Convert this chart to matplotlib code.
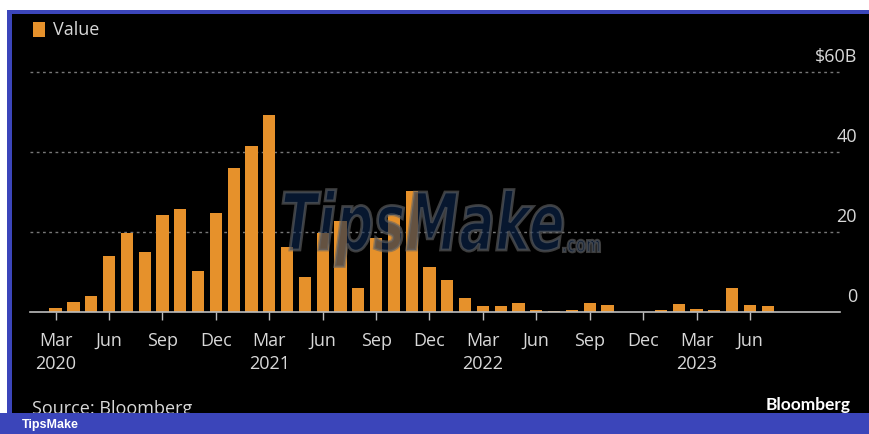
#!/usr/bin/env python3

import numpy as np
import pandas as pd
import matplotlib
matplotlib.use('Agg')
import matplotlib.pyplot as plt
from matplotlib.patches import Rectangle, PathPatch
from matplotlib.textpath import TextPath
from matplotlib.font_manager import FontProperties
from matplotlib.transforms import Affine2D

# monthly values, $B, Mar 2020 .. Jul 2023
months = pd.date_range('2020-03-01', periods=41, freq='MS')
values = [1.0, 2.4, 3.9, 13.9, 19.8, 15.0, 24.2, 25.8, 10.3, 24.8,
          36.0, 41.4, 49.2, 16.3, 8.7, 19.8, 22.8, 5.9, 18.6, 24.2, 30.2, 11.3,
          8.0, 3.4, 1.5, 1.5, 2.2, 0.6, 0.3, 0.6, 2.2, 1.7, 0.1, 0.1,
          0.4, 2.0, 0.8, 0.6, 5.9, 1.8, 1.6]
y_ticks = [0, 20, 40, 60]
y_labels = ['0', '20', '40', '$60B']

W, H = 869, 434
ORANGE = '#E6912B'
BLUE = '#3B45BA'
TXT = '#d8d8d8'
FONT = 'Open Sans'

plt.rcParams['font.family'] = [FONT, 'DejaVu Sans']

fig = plt.figure(figsize=(W / 100, H / 100), dpi=100)
fig.patch.set_facecolor('white')

def fx(x):
	return x / W

def fy(y):
	return 1 - y / H

# frame: black panel, blue borders (behind the axes)
fig.patches.append(Rectangle((fx(7), fy(413)), fx(W - 7), (413 - 10) / H,
	transform=fig.transFigure, facecolor=BLUE, edgecolor='none', zorder=-2))
fig.patches.append(Rectangle((fx(12), fy(413)), fx(W - 12), (413 - 14) / H,
	transform=fig.transFigure, facecolor='black', edgecolor='none', zorder=-1))

x = np.arange(len(values))

ax = fig.add_axes([fx(30), fy(312), fx(840 - 30), (312 - 64) / H])
ax.set_facecolor('none')
ax.bar(x, values, width=0.69, color=ORANGE, zorder=2)

ax.set_xlim(-1.44, 44.06)
ax.set_ylim(0, 62)

for s in ['top', 'right', 'left']:
	ax.spines[s].set_visible(False)
ax.spines['bottom'].set_color('#bdbdbd')
ax.spines['bottom'].set_linewidth(1.2)
ax.spines['bottom'].set_zorder(3)

for v, lab in zip(y_ticks, y_labels):
	if v > 0:
		ax.axhline(v, color='#777777', lw=1, ls=(0, (2, 2.5)), zorder=1)
	ax.annotate(lab, xy=(1.021, v), xycoords=('axes fraction', 'data'),
		xytext=(0, 7.5), textcoords='offset points', ha='right', va='baseline',
		color=TXT, fontsize=13, annotation_clip=False)
ax.set_yticks([])

tick_pos = x[::3]
tick_labels = []
for d in months[::3]:
	lab = d.strftime('%b')
	if d.month == 3:
		lab += '\n' + str(d.year)
	tick_labels.append(lab)
ax.set_xticks(tick_pos)
ax.set_xticklabels(tick_labels, color=TXT, fontsize=13, linespacing=1.32, va='top')
ax.tick_params(axis='x', length=6, width=1, color='#bdbdbd', pad=8.5)

# legend
fig.patches.append(Rectangle((fx(33), fy(37)), fx(12), 15 / H,
	transform=fig.transFigure, facecolor=ORANGE, edgecolor='none', zorder=2))
fig.text(fx(53), fy(30), 'Value', color=TXT, fontsize=13, va='center', ha='left')

# footer
fig.text(fx(32), fy(414), 'Source: Bloomberg', color=TXT, fontsize=13,
	va='baseline', ha='left', zorder=1)
fig.text(fx(851), fy(410), 'Bloomberg', color='white', fontsize=12.5,
	fontweight='bold', family=['Lato', 'DejaVu Sans'], va='baseline', ha='right', zorder=2)
fig.patches.append(Rectangle((0, 0), 1, (H - 413) / H,
	transform=fig.transFigure, facecolor=BLUE, edgecolor='none', zorder=5))
fig.text(fx(22), fy(425), 'TipsMake', color='white', fontsize=9,
	fontweight='bold', family=['Liberation Sans', 'DejaVu Sans'],
	va='center', ha='left', zorder=6)

# watermark
wm_prop = FontProperties(family='DejaVu Sans', weight='bold', style='italic')
tp = TextPath((0, 0), 'TipsMake', size=1, prop=wm_prop)
ext = tp.get_extents()
cap = 0.729
sx = 280 / ext.width
sy = 58 / cap
tr = Affine2D().translate(-ext.x0, 0).scale(sx / W, sy / H).translate(fx(283), fy(250))
fig.patches.append(PathPatch(tr.transform_path(tp), transform=fig.transFigure,
	facecolor='#0d2850', edgecolor='#666666', lw=2, alpha=0.6, zorder=3))
tp2 = TextPath((0, 0), '.com', size=1, prop=FontProperties(family='DejaVu Sans', weight='bold'))
ext2 = tp2.get_extents()
tr2 = Affine2D().translate(-ext2.x0, 0).scale(37 / ext2.width / W, 12 / 0.55 / H).translate(fx(563), fy(252))
fig.patches.append(PathPatch(tr2.transform_path(tp2), transform=fig.transFigure,
	facecolor='#0d2850', edgecolor='#666666', lw=1.5, alpha=0.6, zorder=3))

fig.savefig('out.png', dpi=100)
